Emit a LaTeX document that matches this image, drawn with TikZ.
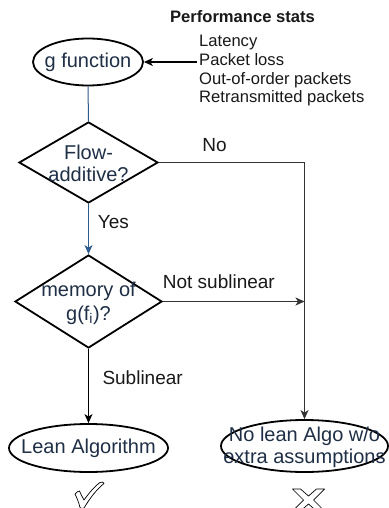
\documentclass[tikz,border=0pt]{standalone}
\usepackage{fontspec}
\setmainfont{Liberation Sans}
\usetikzlibrary{shapes.geometric,arrows.meta}
\definecolor{txt}{HTML}{1F2F46}
\definecolor{flowblue}{HTML}{2F5A8C}
\definecolor{lgray}{HTML}{333333}
\begin{document}
\begin{tikzpicture}[x=1pt,y=-1pt,
  term/.style={ellipse, draw=black, line width=1.8pt, fill=white, inner sep=0pt},
  decision/.style={diamond, draw=black, line width=1.8pt, fill=white, inner sep=0pt},
  body/.style={text=txt, font=\fontsize{20}{22}\selectfont, align=center, inner sep=0pt},
  lbl/.style={text=black!90, font=\fontsize{19}{22}\selectfont, inner sep=0pt},
  stat/.style={text=black!90, font=\fontsize{16.6}{18.9}\selectfont, align=left, inner sep=0pt},
  conn/.style={line width=1.2pt, draw=lgray},
  tip/.style={-{Stealth[length=9pt,width=8pt,inset=2.5pt]}},
  glyphshape/.style={draw=black, line width=0.7pt, fill=white, line join=round}
]
\fill[white] (0,0) rectangle (388,508);
\useasboundingbox (0,0) rectangle (388,508);

% stats
\node[stat, font=\bfseries\fontsize{16.6}{19}\selectfont, anchor=base] (hdr) at (242.5,22.5) {Performance stats};
\node[stat, anchor=north west] (stats) at (199,34.6) {Latency\\Packet loss\\Out-of-order packets\\Retransmitted packets};

% shapes
\node[term, minimum width=110pt, minimum height=47pt] (g) at (88,62) {};
\node[body] (gt) at (g.center) {g function};

\node[decision, minimum width=139pt, minimum height=81pt] (d1) at (88.5,162.5) {};
\node[body] (d1t) at (88.5,163) {Flow-\\additive?};

\node[decision, minimum width=147pt, minimum height=93pt] (d2) at (88.5,301.5) {};
\node[body, font=\fontsize{20}{24}\selectfont] (d2t) at (88.5,303) {memory of\\g(f\textsubscript{i})?};

\node[term, minimum width=159pt, minimum height=48pt] (lean) at (88.5,448) {};
\node[body] (leant) at (lean.center) {Lean Algorithm};

\node[term, minimum width=167pt, minimum height=52pt] (nolean) at (304.5,446) {};
\node[body] (noleant) at (304.5,447) {No lean Algo w/o\\extra assumptions};

% connectors
\coordinate (src) at (197,62);
\draw[conn, tip, draw=black] (src) -- (g.east);
\draw[line width=1pt, flowblue] (g.south) -- (d1.north);
\draw[line width=1pt, flowblue, tip] (d1.south) -- (d2.north);
\draw[conn, tip] (d1.east) -| (nolean.north);
\draw[conn, tip] (d2.east) -- (d2.east -| nolean.north);
\draw[conn, tip, draw=black] (d2.south) -- (lean.north);

% labels
\node[lbl, anchor=base] (no) at (214.5,151.7) {No};
\node[lbl, anchor=base west] (yes) at (97.7,228) {Yes};
\node[lbl, anchor=base west] (ns) at (162.7,288) {Not sublinear};
\node[lbl, anchor=base west] (sub) at (102.3,384) {Sublinear};

% check mark
\draw[glyphshape] (75,494) .. controls (77,492) and (78,491) .. (79.5,491)
  .. controls (81,494) and (82,497) .. (84,500)
  .. controls (89,493) and (95,486) .. (100,482.5)
  .. controls (102,481.5) and (104,482) .. (104,483.5)
  .. controls (97,489) and (90,498) .. (84,508)
  .. controls (83,509) and (81,509) .. (80,507.5)
  .. controls (79,503) and (77,498) .. cycle;
% cross mark
\begin{scope}[shift={(308.5,500)}]
\draw[glyphshape] (-16,-11) -- (-8,-11) -- (0,-4) -- (8,-11) -- (16,-11) -- (5,0)
  -- (16,11) -- (8,11) -- (0,4) -- (-8,11) -- (-16,11) -- (-5,0) -- cycle;
\end{scope}
\end{tikzpicture}
\end{document}
